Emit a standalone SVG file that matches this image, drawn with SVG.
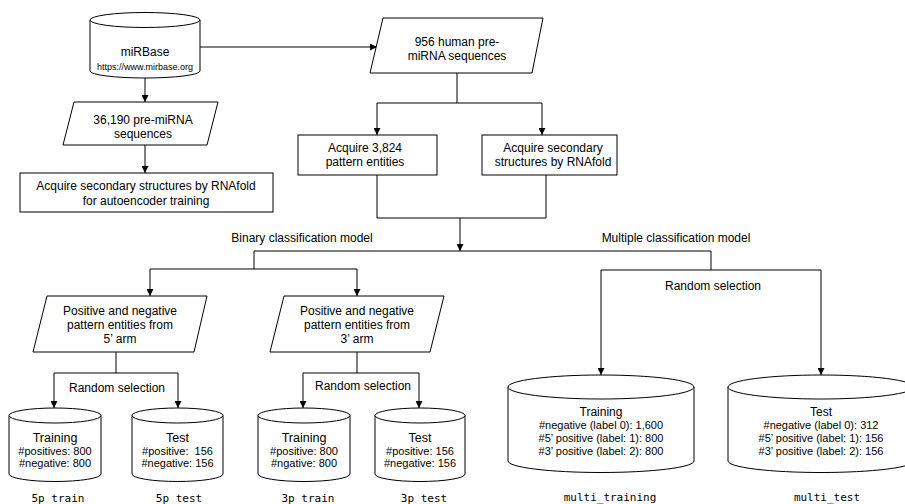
<svg xmlns="http://www.w3.org/2000/svg" width="905" height="504" viewBox="0 0 905 504">
<defs>
<marker id="arr" viewBox="0 0 8 8" refX="8" refY="4" markerWidth="7" markerHeight="7" orient="auto" markerUnits="userSpaceOnUse">
<path d="M0,0 L8,4 L0,8 Z" fill="#000"/>
</marker>
<style>
.s{fill:#fff;stroke:#000;stroke-width:1}
.c{fill:none;stroke:#000;stroke-width:1}
.t{font-family:"Liberation Sans",Arial,sans-serif;font-size:12px;fill:#000;text-anchor:middle}
.sm{font-size:9px}
.d{font-size:11px}
.l{font-family:"DejaVu Sans Mono","Liberation Mono",monospace;font-size:11px;fill:#000;text-anchor:middle}
.a{fill:none;stroke:#000;stroke-width:1;marker-end:url(#arr)}
</style>
</defs>
<rect width="905" height="504" fill="#fff"/>

<g id="connectors">
<path class="a" d="M200,47 L377,47"/>
<path class="a" d="M145,78 L145,102"/>
<path class="a" d="M145,145 L145,173"/>
<path class="c" d="M457,73 L457,103 M377,103 L542,103"/>
<path class="a" d="M377,103 L377,135"/>
<path class="a" d="M542,103 L542,135"/>
<path class="c" d="M377,175 L377,218 L546,218 L546,175"/>
<path class="a" d="M460,218 L460,251"/>
<path class="c" d="M254,251 L711,251 M254,251 L254,269 M150,269 L357,269 M711,251 L711,270 M601,270 L821,270"/>
<path class="a" d="M150,269 L150,296"/>
<path class="a" d="M357,269 L357,296"/>
<path class="a" d="M601,270 L601,375"/>
<path class="a" d="M821,270 L821,375"/>
<path class="c" d="M116,352 L116,373 M54,373 L178,373 M357,352 L357,373 M303,373 L419,373"/>
<path class="a" d="M54,373 L54,408"/>
<path class="a" d="M178,373 L178,408"/>
<path class="a" d="M303,373 L303,408"/>
<path class="a" d="M419,373 L419,408"/>
</g>

<g id="mirbase">
<path class="s" d="M90,20 L90,71 A55,7 0 0 0 200,71 L200,20"/>
<ellipse class="s" cx="145" cy="20" rx="55" ry="7.5"/>
<text class="t" x="145" y="56">miRBase</text>
<text class="t sm" x="145" y="70">https://www.mirbase.org</text>
</g>

<g id="seq36190">
<polygon class="s" points="74,102 218,102 207,145 63,145"/>
<text class="t" x="143" y="124">36,190 pre-miRNA</text>
<text class="t" x="143" y="138">sequences</text>
</g>

<g id="acquire-ae">
<rect class="s" x="20" y="173" width="253" height="39"/>
<text class="t" x="146" y="190">Acquire secondary structures by RNAfold</text>
<text class="t" x="146" y="205">for autoencoder training</text>
</g>

<g id="seq956">
<polygon class="s" points="383,18 543,18 532,73 370,73"/>
<text class="t" x="457" y="46">956 human pre-</text>
<text class="t" x="457" y="60">miRNA sequences</text>
</g>

<g id="acquire-pattern">
<rect class="s" x="298" y="135" width="139" height="40"/>
<text class="t" x="365" y="152">Acquire 3,824</text>
<text class="t" x="365" y="166">pattern entities</text>
</g>

<g id="acquire-rnafold">
<rect class="s" x="482" y="135" width="135" height="40"/>
<text class="t" x="553" y="152">Acquire secondary</text>
<text class="t" x="553" y="166">structures by RNAfold</text>
</g>

<g id="labels">
<text class="t" x="302" y="242">Binary classification model</text>
<text class="t" x="676" y="242">Multiple classification model</text>
<text class="t" x="713" y="290">Random selection</text>
<text class="t" x="117" y="392">Random selection</text>
<text class="t" x="363" y="390">Random selection</text>
</g>

<g id="arm5">
<polygon class="s" points="47,296 207,296 194,352 33,352"/>
<text class="t" x="120" y="315">Positive and negative</text>
<text class="t" x="120" y="329">pattern entities from</text>
<text class="t" x="120" y="343">5’ arm</text>
</g>

<g id="arm3">
<polygon class="s" points="284,296 444,296 430,352 270,352"/>
<text class="t" x="357" y="315">Positive and negative</text>
<text class="t" x="357" y="329">pattern entities from</text>
<text class="t" x="357" y="343">3’ arm</text>
</g>

<g id="train5p">
<path class="s" d="M9,415.5 L9,474 A46,7.5 0 0 0 101,474 L101,415.5"/>
<ellipse class="s" cx="55" cy="415.5" rx="46" ry="7.5"/>
<text class="t" x="55" y="442" style="font-size:12.5px">Training</text>
<text class="t d" x="55" y="455">#positives: 800</text>
<text class="t d" x="55" y="467">#negative: 800</text>
<text class="l" x="58" y="502">5p train</text>
</g>

<g id="test5p">
<path class="s" d="M132,415.5 L132,474 A45.5,7.5 0 0 0 223,474 L223,415.5"/>
<ellipse class="s" cx="177.5" cy="415.5" rx="45.5" ry="7.5"/>
<text class="t" x="177.5" y="442" style="font-size:12.5px">Test</text>
<text class="t d" x="177.5" y="455" xml:space="preserve">#positive:  156</text>
<text class="t d" x="177.5" y="467">#negative: 156</text>
<text class="l" x="179" y="502">5p test</text>
</g>

<g id="train3p">
<path class="s" d="M258,415.5 L258,474 A46,7.5 0 0 0 350,474 L350,415.5"/>
<ellipse class="s" cx="304" cy="415.5" rx="46" ry="7.5"/>
<text class="t" x="304" y="442" style="font-size:12.5px">Training</text>
<text class="t d" x="304" y="455">#positive: 800</text>
<text class="t d" x="304" y="467">#ngative: 800</text>
<text class="l" x="308" y="502">3p train</text>
</g>

<g id="test3p">
<path class="s" d="M375,415.5 L375,474 A45,7.5 0 0 0 465,474 L465,415.5"/>
<ellipse class="s" cx="420" cy="415.5" rx="45" ry="7.5"/>
<text class="t" x="420" y="442" style="font-size:12.5px">Test</text>
<text class="t d" x="420" y="455">#positive: 156</text>
<text class="t d" x="420" y="467">#negative: 156</text>
<text class="l" x="424" y="502">3p test</text>
</g>

<g id="multitrain">
<path class="s" d="M508,387 L508,461 A93,11.5 0 0 0 694,461 L694,387"/>
<ellipse class="s" cx="601" cy="387" rx="93" ry="12"/>
<text class="t" x="601" y="416">Training</text>
<text class="t d" x="601" y="429">#negative (label 0): 1,600</text>
<text class="t d" x="601" y="442">#5’ positive (label: 1): 800</text>
<text class="t d" x="601" y="455">#3’ positive (label: 2): 800</text>
<text class="l" x="610" y="501">multi_training</text>
</g>

<g id="multitest">
<path class="s" d="M728,387 L728,461 A93,11.5 0 0 0 914,461 L914,387"/>
<ellipse class="s" cx="821" cy="387" rx="93" ry="12"/>
<text class="t" x="821" y="416">Test</text>
<text class="t d" x="821" y="429">#negative (label 0): 312</text>
<text class="t d" x="821" y="442">#5’ positive (label: 1): 156</text>
<text class="t d" x="821" y="455">#3’ positive (label: 2): 156</text>
<text class="l" x="827" y="501">multi_test</text>
</g>
</svg>
